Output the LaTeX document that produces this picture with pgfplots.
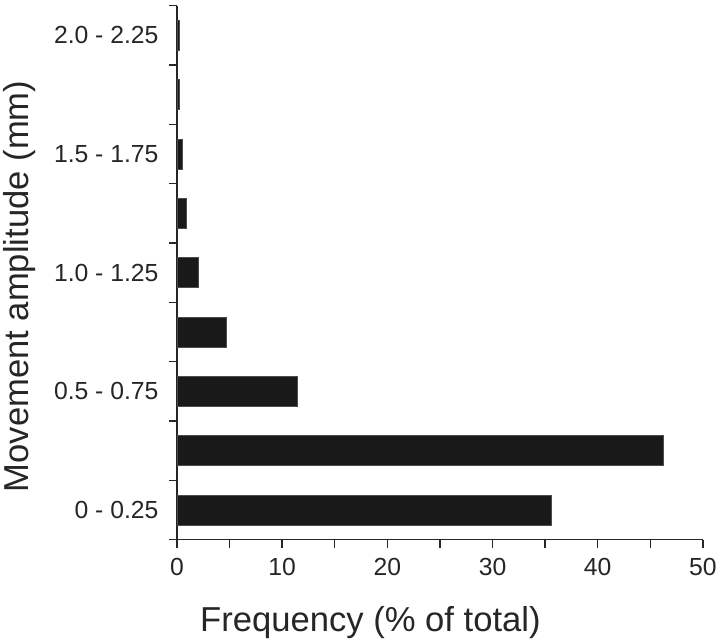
\documentclass[border=0pt]{standalone}
\usepackage{pgfplots}
\pgfplotsset{compat=1.18}
\usepackage{fontspec}
\setmainfont{Liberation Sans}
\begin{document}
\begin{tikzpicture}
\begin{axis}[
    scale only axis,
    width=530bp, height=538bp,
    xbar, bar width=30bp,
    xmin=0, xmax=50,
    ymin=-0.5, ymax=8.5,
    axis lines*=left,
    axis line style={line width=1.3bp, black!85},
    tick align=outside,
    major tick length=8bp, minor tick length=8bp,
    tick style={line width=1.3bp, black!85},
    xtick={0,10,...,50},
    minor xtick={5,15,...,45},
    ytick={0,2,4,6,8},
    yticklabels={0 - 0.25, 0.5 - 0.75, 1.0 - 1.25, 1.5 - 1.75, 2.0 - 2.25},
    ytick style={draw=none},
    minor ytick={-0.5,0.5,...,8.5},
    minor y tick style={draw=black!85, line width=1.3bp},
    ticklabel style={font=\fontsize{25}{30}\selectfont, text=black!85},
    yticklabel style={xshift=-7bp},
    xticklabel style={yshift=-7bp},
    /pgf/number format/assume math mode=true,
    xlabel={Frequency (\% of total)},
    ylabel={Movement amplitude (mm)},
    label style={font=\fontsize{35}{40}\selectfont, text=black!85},
    xlabel style={at={(axis description cs:0.368,0)}, anchor=north, yshift=-64bp},
    ylabel style={at={(axis description cs:-0.262,0.474)}, anchor=south},
]
\addplot[fill=black!90, draw=black!70, line width=0.5bp] coordinates {
    (35.6,0) (46.2,1) (11.4,2) (4.7,3) (2.0,4) (0.9,5) (0.5,6) (0.2,7) (0.2,8)
};
\end{axis}
\path (current bounding box.north) ++(0,5bp) coordinate (top);
\useasboundingbox (current bounding box.south west) rectangle (current bounding box.north east |- top);
\end{tikzpicture}
\end{document}
